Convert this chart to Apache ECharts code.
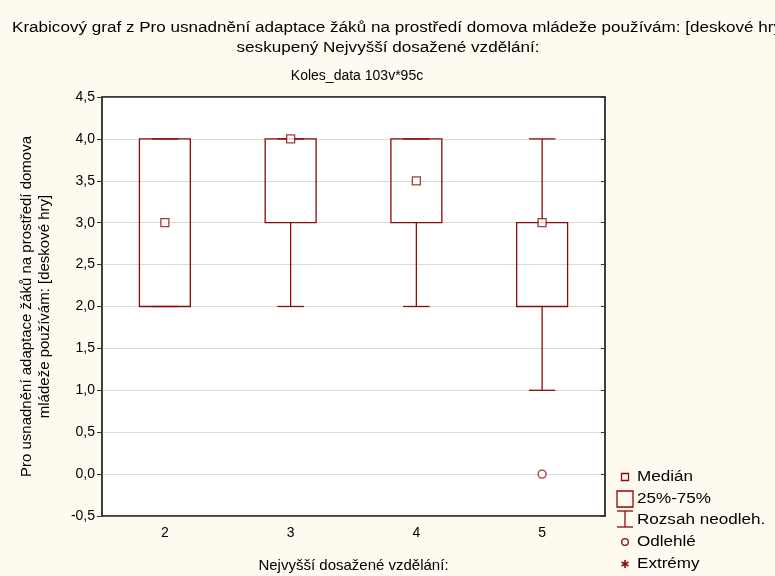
<!DOCTYPE html>
<html>
<head>
<meta charset="utf-8">
<script src="https://cdn.jsdelivr.net/npm/echarts@6/dist/echarts.min.js"></script>
<style>
  html, body { margin: 0; padding: 0; background: #fffaf0; }
  #chart { width: 775px; height: 576px; }
</style>
</head>
<body>
<div id="chart"></div>
<script>
// Box plot values, one entry per group.
const categories = ['2', '3', '4', '5'];
const mins    = [2, 2, 2, 1];
const q1s     = [2, 3, 3, 2];
const medians = [3, 4, 3.5, 3];
const q3s     = [4, 4, 4, 3];
const maxs    = [4, 4, 4, 4];
const outliers = [['5', 0]];
const extremes = [];

const RED = '#8b0a0a';
const FONT = '"Liberation Sans", Arial, sans-serif';
const FS = 14;
// Statistica's title/legend face is wider than Arial at the same height
const WIDE = 1.22;

const chart = echarts.init(document.getElementById('chart'), null, { renderer: 'canvas' });

const fmt = (v) => v.toFixed(1).replace('.', ',');

// whiskers (caps drawn even when they coincide with the box edge)
function renderWhisker(params, api) {
  const c = api.value(0);
  const lo = api.coord([c, api.value(1)]);
  const q1 = api.coord([c, api.value(2)]);
  const q3 = api.coord([c, api.value(3)]);
  const hi = api.coord([c, api.value(4)]);
  const half = api.size([1, 0])[0] * 0.105;
  const style = { stroke: RED, lineWidth: 1.3 };
  const x = lo[0];
  return {
    type: 'group',
    children: [
      { type: 'line', shape: { x1: x, y1: hi[1], x2: x, y2: q3[1] }, style },
      { type: 'line', shape: { x1: x, y1: q1[1], x2: x, y2: lo[1] }, style },
      { type: 'line', shape: { x1: x - half, y1: hi[1], x2: x + half, y2: hi[1] }, style },
      { type: 'line', shape: { x1: x - half, y1: lo[1], x2: x + half, y2: lo[1] }, style },
    ],
  };
}

function renderBox(params, api) {
  const c = api.value(0);
  const q1 = api.coord([c, api.value(1)]);
  const q3 = api.coord([c, api.value(2)]);
  const w = api.size([1, 0])[0] * 0.405;
  return {
    type: 'rect',
    shape: { x: q1[0] - w / 2, y: q3[1], width: w, height: q1[1] - q3[1] },
    style: { fill: 'none', stroke: RED, lineWidth: 1.3 },
  };
}

const LX = 625, TX = 637;
const rows = [477, 499, 520, 542, 564];
const legendText = ['Medián', '25%-75%', 'Rozsah neodleh.', 'Odlehlé', 'Extrémy'];
const lineStyle = { stroke: RED, lineWidth: 1.3, fill: 'none' };
const txt = (s, extra) => Object.assign({ text: s, font: `${FS}px ${FONT}`, fill: '#000', verticalAlign: 'middle' }, extra);

const ay = rows[4];
const graphic = [
  { type: 'text', x: 12, y: 28, scaleX: WIDE, style: txt('Krabicový graf z Pro usnadnění adaptace žáků na prostředí domova mládeže používám: [deskové hry]') },
  { type: 'text', x: 388, y: 48, scaleX: WIDE, style: txt('seskupený Nejvyšší dosažené vzdělání:', { align: 'center' }) },
  { type: 'text', x: 357, y: 76, style: txt('Koles_data 103v*95c', { align: 'center' }) },
  // legend icons
  { type: 'rect', shape: { x: LX - 3.5, y: rows[0] - 3.5, width: 7, height: 7 }, style: lineStyle },
  { type: 'rect', shape: { x: LX - 8, y: rows[1] - 8, width: 16, height: 16 }, style: lineStyle },
  { type: 'polyline', shape: { points: [[LX - 8, rows[2] - 9], [LX + 8, rows[2] - 9]] }, style: lineStyle },
  { type: 'polyline', shape: { points: [[LX, rows[2] - 9], [LX, rows[2] + 7]] }, style: lineStyle },
  { type: 'polyline', shape: { points: [[LX - 8, rows[2] + 7], [LX + 8, rows[2] + 7]] }, style: lineStyle },
  { type: 'circle', shape: { cx: LX, cy: rows[3], r: 3.3 }, style: lineStyle },
  { type: 'polyline', shape: { points: [[LX, ay - 4], [LX, ay + 4]] }, style: { stroke: RED, lineWidth: 1.6 } },
  { type: 'polyline', shape: { points: [[LX - 3.5, ay - 2], [LX + 3.5, ay + 2]] }, style: { stroke: RED, lineWidth: 1.6 } },
  { type: 'polyline', shape: { points: [[LX - 3.5, ay + 2], [LX + 3.5, ay - 2]] }, style: { stroke: RED, lineWidth: 1.6 } },
].concat(legendText.map((t, i) => ({
  type: 'text', x: TX, y: rows[i], scaleX: WIDE, style: txt(t),
})));

chart.setOption({
  backgroundColor: '#fffaf0',
  animation: false,
  textStyle: { fontFamily: FONT },
  grid: {
    left: 102, top: 97, width: 503, height: 419,
    outerBoundsMode: 'none', containLabel: false,
    show: true, backgroundColor: '#fff', borderColor: '#333', borderWidth: 1.5,
  },
  xAxis: [
    {
      type: 'category', data: categories, position: 'bottom',
      name: 'Nejvyšší dosažené vzdělání:', nameLocation: 'middle', nameGap: 42,
      nameTextStyle: { color: '#000', fontSize: 15 },
      axisLine: { onZero: false, lineStyle: { color: '#333', width: 1.5 } },
      axisTick: { alignWithLabel: true, inside: true, length: 4, lineStyle: { color: '#333' } },
      axisLabel: { color: '#000', fontSize: FS, margin: 10 },
      splitLine: { show: false },
    },
    {
      type: 'category', data: categories, position: 'top',
      axisLine: { onZero: false, lineStyle: { color: '#333', width: 1.5 } },
      axisTick: { alignWithLabel: true, inside: true, length: 4, lineStyle: { color: '#333' } },
      axisLabel: { show: false },
    },
  ],
  yAxis: [
    {
      type: 'value', min: -0.5, max: 4.5, interval: 0.5, position: 'left',
      name: 'Pro usnadnění adaptace žáků na prostředí domova\nmládeže používám: [deskové hry]',
      nameLocation: 'middle', nameGap: 48, nameRotate: 90,
      nameTextStyle: { color: '#000', fontSize: 15, lineHeight: 18 },
      axisLine: { show: true, onZero: false, lineStyle: { color: '#333', width: 1.5 } },
      axisTick: { show: true, length: 5, lineStyle: { color: '#333' } },
      axisLabel: { color: '#000', fontSize: FS, margin: 7, formatter: fmt },
      splitLine: { lineStyle: { color: '#dadada', width: 1 } },
    },
    {
      type: 'value', min: -0.5, max: 4.5, interval: 0.5, position: 'right',
      axisLine: { show: true, onZero: false, lineStyle: { color: '#333', width: 1.5 } },
      axisTick: { show: true, inside: true, length: 4, lineStyle: { color: '#333' } },
      axisLabel: { show: false },
      splitLine: { show: false },
    },
  ],
  series: [
    {
      name: 'Rozsah neodleh.', type: 'custom', renderItem: renderWhisker,
      encode: { x: 0, y: [1, 4] },
      data: categories.map((c, i) => [i, mins[i], q1s[i], q3s[i], maxs[i]]),
    },
    {
      name: '25%-75%', type: 'custom', renderItem: renderBox,
      encode: { x: 0, y: [1, 2] },
      data: categories.map((c, i) => [i, q1s[i], q3s[i]]),
    },
    {
      name: 'Medián', type: 'scatter', symbol: 'rect', symbolSize: 8,
      itemStyle: { color: '#fff', borderColor: RED, borderWidth: 1.3 },
      data: categories.map((c, i) => [c, medians[i]]),
      z: 5,
    },
    {
      name: 'Odlehlé', type: 'scatter', symbol: 'circle', symbolSize: 8,
      itemStyle: { color: '#fff', borderColor: RED, borderWidth: 1.3 },
      data: outliers,
    },
    {
      name: 'Extrémy', type: 'scatter', symbol: 'circle', symbolSize: 7,
      itemStyle: { color: RED },
      data: extremes,
    },
  ],
  graphic,
});
</script>
</body>
</html>
